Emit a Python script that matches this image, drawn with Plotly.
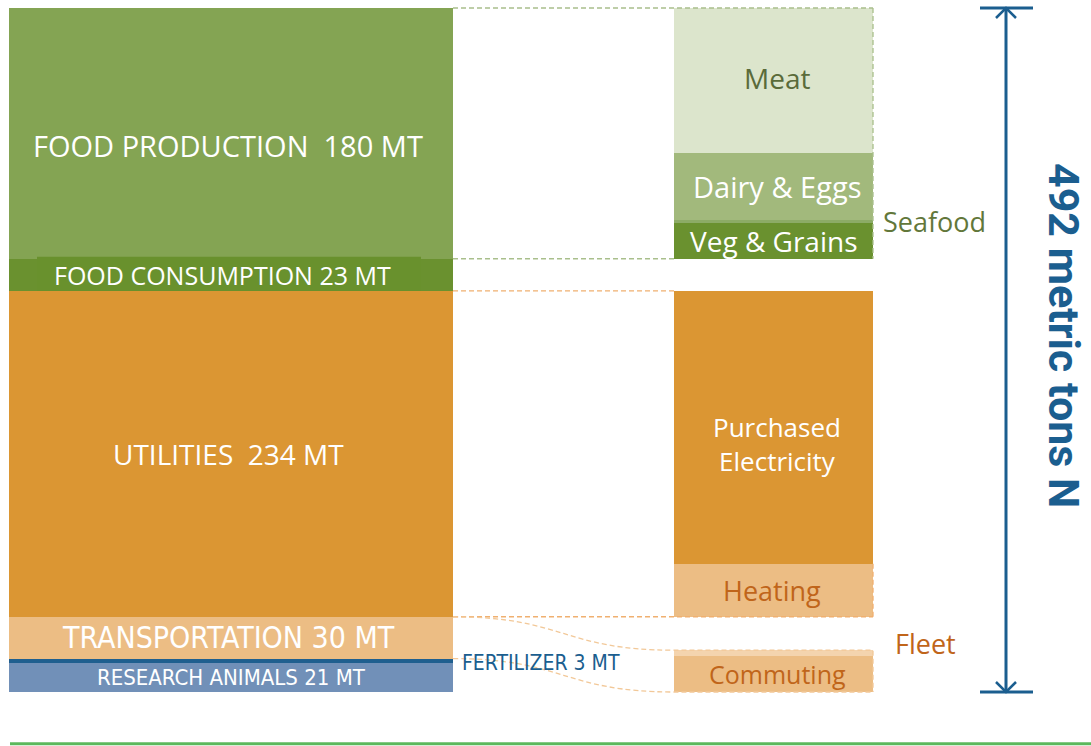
import plotly.graph_objects as go

# ---------------- data ----------------
# left column (bottom -> top)
left_labels = ["RESEARCH ANIMALS 21 MT", "FERTILIZER 3 MT", "TRANSPORTATION 30 MT",
               "UTILITIES  234 MT", "FOOD CONSUMPTION 23 MT", "FOOD PRODUCTION  180 MT"]
left_values = [21, 3, 30, 234, 23, 180]
left_colors = ["#7190B8", "#1F5F8F", "#ECBD84", "#DB9633", "#6A912F", "#84A453"]

# right column breakdowns (bottom -> top)
transport_sub = ["Commuting", "Fleet"]
transport_vals = [26, 4]
utilities_sub = ["Heating", "Purchased<br>Electricity"]
utilities_vals = [38, 196]
food_sub = ["Veg & Grains", "Seafood", "Dairy & Eggs", "Meat"]
food_vals = [26, 2, 48, 104]

total_label = "492 metric tons N"

# ---------------- geometry ----------------
W, H = 1091, 746
total = sum(left_values)
px_top, px_bot = 8, 692
s = (px_bot - px_top) / total          # pixels per MT
y_top = total + px_top / s
y_bot = -(H - px_bot) / s

LX0, LX1 = 9, 453
RX0, RX1 = 674, 873
lc = (LX0 + LX1) / 2
rc = (RX0 + RX1) / 2

left_base = [sum(left_values[:i]) for i in range(len(left_values))]
b_trans = 0
b_util = left_base[3]
b_food = left_base[5]

def bases(start, vals):
    out, acc = [], start
    for v in vals:
        out.append(acc)
        acc += v
    return out

tb = bases(b_trans, transport_vals)
ub = bases(b_util, utilities_vals)
fb = bases(b_food, food_vals)

fig = go.Figure()

fig.add_trace(go.Bar(x=[lc] * len(left_values), y=left_values, base=left_base,
                     width=LX1 - LX0, marker=dict(color=left_colors, line=dict(width=0)),
                     hoverinfo="skip", showlegend=False))

right_vals = transport_vals + utilities_vals + food_vals
right_base = tb + ub + fb
right_colors = ["#ECBD84", "#F4D4AE", "#ECBD84", "#DB9633",
                "#6A912F", "#8CAB66", "#A2B97C", "#DCE5CC"]
fig.add_trace(go.Bar(x=[rc] * len(right_vals), y=right_vals, base=right_base,
                     width=RX1 - RX0, marker=dict(color=right_colors, line=dict(width=0)),
                     hoverinfo="skip", showlegend=False))

shapes = []
GD = "#A9BF8C"
OD = "#F0B070"
DASH = "5px,3px"

# food consumption inner label box
cons_b, cons_v = left_base[4], left_values[4]
shapes.append(dict(type="rect", xref="x", yref="y", x0=37, x1=421,
                   y0=cons_b, y1=cons_b + cons_v + 2 / s,
                   fillcolor="#69912D", line=dict(width=0), layer="above"))

# green connectors / outline
food_top = b_food + sum(food_vals)
shapes += [
    dict(type="line", x0=LX1, x1=RX1, y0=food_top, y1=food_top, line=dict(color=GD, width=1.3, dash=DASH)),
    dict(type="line", x0=LX1, x1=RX0, y0=b_food, y1=b_food, line=dict(color=GD, width=1.3, dash=DASH)),
    dict(type="line", x0=RX1, x1=RX1, y0=food_top, y1=b_food, line=dict(color=GD, width=1.3, dash=DASH)),
]
# orange connectors
util_top = b_util + sum(utilities_vals)
shapes += [
    dict(type="line", x0=LX1, x1=RX0, y0=util_top, y1=util_top, line=dict(color=OD, width=1.3, dash=DASH)),
    dict(type="line", x0=LX1, x1=RX1, y0=b_util, y1=b_util, line=dict(color=OD, width=1.3, dash=DASH)),
    dict(type="line", x0=RX1, x1=RX1, y0=b_util, y1=b_util + utilities_vals[0], line=dict(color=OD, width=1.3, dash=DASH)),
]
# transport curves
tr_b, tr_top = left_base[2], left_base[2] + left_values[2]
rt_top = b_trans + sum(transport_vals)
mx = (LX1 + RX0) / 2
shapes += [
    dict(type="path", path=f"M {LX1},{tr_top} C {mx},{tr_top} {mx},{rt_top} {RX0},{rt_top} L {RX1},{rt_top} L {RX1},{b_trans}",
         line=dict(color="#F2C898", width=1.3, dash=DASH)),
    dict(type="path", path=f"M {LX1},{tr_b} C {mx},{tr_b} {mx},{b_trans} {RX0},{b_trans} L {RX1},{b_trans}",
         line=dict(color="#F2C898", width=1.3, dash=DASH)),
]

# total arrow
AX = 1006
ah = 10 / s
BLUE = "#1B5E8F"
shapes += [
    dict(type="line", x0=AX, x1=AX, y0=0, y1=total, line=dict(color=BLUE, width=3)),
    dict(type="line", x0=980, x1=1033, y0=total, y1=total, line=dict(color=BLUE, width=3)),
    dict(type="line", x0=980, x1=1033, y0=0, y1=0, line=dict(color=BLUE, width=3)),
    dict(type="path", path=f"M {AX-10},{total-ah} L {AX},{total} L {AX+10},{total-ah}", line=dict(color=BLUE, width=2.5)),
    dict(type="path", path=f"M {AX-10},{ah} L {AX},{0} L {AX+10},{ah}", line=dict(color=BLUE, width=2.5)),
]
# bottom green rule
shapes.append(dict(type="line", xref="x", yref="paper", x0=10, x1=W, y0=0.003, y1=0.003,
                   line=dict(color="#5CB85C", width=3)))

for sh in shapes:
    sh.setdefault("xref", "x")
    sh.setdefault("yref", "y")
    sh.setdefault("layer", "above")

GF = "Open Sans, sans-serif"
NF = "Liberation Sans Narrow, DejaVu Sans Condensed, sans-serif"

def mid(b, v):
    return b + v / 2

ann = []
def A(text, x, y, size, color, family=GF, **kw):
    ann.append(dict(text=text, x=x, y=y, xref="x", yref="y", showarrow=False,
                    font=dict(size=size, color=color, family=family), **kw))

A(left_labels[5], lc - 3, mid(left_base[5], left_values[5]) - 12 / s, 29, "white")
A(left_labels[4], lc - 9, mid(left_base[4], left_values[4]), 25, "white")
A(left_labels[3], lc - 3, mid(left_base[3], left_values[3]), 28, "white")
A(left_labels[2], lc - 3, mid(left_base[2], left_values[2]), 30, "white", family=NF)
A(left_labels[0], lc, mid(left_base[0], left_values[0]), 22, "white", family=NF)
A(left_labels[1], 541, left_base[1] + 0, 21, BLUE, family=NF)

A(food_sub[3], rc + 3, fb[3] + food_vals[3] - 70 / s, 28, "#5A6B3A")
A(food_sub[2], rc + 3, mid(fb[2], food_vals[2]), 29, "white")
A(food_sub[0], rc, mid(fb[0], food_vals[0]), 28, "white")
A(food_sub[1], 934, fb[1] + 1, 27, "#62773A")
A(utilities_sub[1], rc + 3, mid(ub[1], utilities_vals[1]) - 17 / s, 26, "white")
A(utilities_sub[0], rc - 2, mid(ub[0], utilities_vals[0]), 27, "#C0651A")
A(transport_sub[0], rc + 4, mid(tb[0], transport_vals[0]), 25, "#C0651A")
A(transport_sub[1], 925, rt_top + 7 / s, 27, "#C0651A")

ann.append(dict(text="<b>" + total_label + "</b>", x=1064, y=total / 2 + 15 / s,
                xref="x", yref="y", showarrow=False, textangle=90, borderpad=0,
                font=dict(size=43, color=BLUE, family="Roboto, Liberation Sans, sans-serif")))

fig.update_layout(
    width=W, height=H, margin=dict(l=0, r=0, t=0, b=0),
    paper_bgcolor="white", plot_bgcolor="white",
    barmode="overlay", bargap=0,
    xaxis=dict(range=[0, W], visible=False, fixedrange=True),
    yaxis=dict(range=[y_bot, y_top], visible=False, fixedrange=True),
    shapes=shapes, annotations=ann, showlegend=False,
)

fig.write_html("out.html", config={"displayModeBar": False},
               post_script="document.body.style.margin='0px';")
